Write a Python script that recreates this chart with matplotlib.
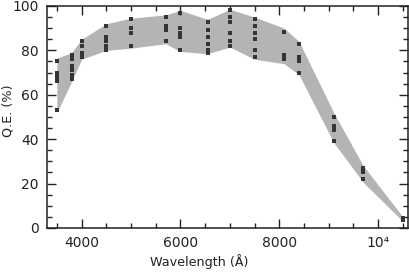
import matplotlib
matplotlib.use("Agg")
import matplotlib.pyplot as plt
from matplotlib.ticker import MultipleLocator, FixedLocator, FixedFormatter

# Measured Q.E. points: wavelength (Å) -> list of values (%)
wavelengths = [3500, 3800, 4000, 4500, 5000, 5700, 6000, 6550, 7000, 7500, 8100, 8400, 9100, 9700, 10500]
qe_values = [
    [75, 70, 68, 66, 53],
    [78, 76, 73, 71, 69, 67],
    [84, 82, 79, 77],
    [91, 86, 84, 82, 80],
    [94, 90, 88, 82],
    [95, 91, 89, 84],
    [97, 90, 88, 86, 80],
    [93, 89, 86, 83, 80, 79],
    [98, 95, 93, 88, 84, 82],
    [94, 91, 88, 85, 80, 77],
    [88.5, 78, 76],
    [83, 77, 75, 70],
    [50, 46, 44, 39],
    [27, 25, 22],
    [4.5, 3.5],
]

# Envelope of the shaded band
band_upper = [76.5, 79, 85, 92, 94.5, 96, 98, 94, 98.5, 95, 90, 84, 52, 28, 5]
band_lower = [52, 66, 76, 80, 81, 83, 79.5, 78.5, 81.5, 76, 74, 69, 38.5, 20.5, 3]

xtick_vals = [4000, 6000, 8000, 10000]
xtick_labels = ["4000", "6000", "8000", "10\u2074"]
ytick_vals = [0, 20, 40, 60, 80, 100]

fig = plt.figure(figsize=(4.10, 2.72), dpi=100)
ax = fig.add_axes([0.1146, 0.162, 0.880, 0.816])

ax.fill_between(wavelengths, band_lower, band_upper, color="#b4b4b6", linewidth=0, zorder=1)

for w, vals in zip(wavelengths, qe_values):
    ax.plot([w] * len(vals), vals, linestyle="none", marker="s", markersize=3.5,
            color="#353535", markeredgewidth=0, zorder=2)

ax.set_xlim(3300, 10600)
ax.set_ylim(0, 100)

ax.xaxis.set_major_locator(FixedLocator(xtick_vals))
ax.xaxis.set_major_formatter(FixedFormatter(xtick_labels))
ax.xaxis.set_minor_locator(MultipleLocator(500))
ax.yaxis.set_major_locator(FixedLocator(ytick_vals))
ax.yaxis.set_minor_locator(MultipleLocator(5))

txt = "#222222"
ax.tick_params(which="both", direction="in", top=True, right=True, colors=txt,
               labelsize=10, width=1.0)
ax.tick_params(which="major", length=6.5, pad=6)
ax.tick_params(which="minor", length=3.5)
for s in ax.spines.values():
    s.set_linewidth(1.1)
    s.set_color(txt)

ax.set_xlabel("Wavelength (Å)", fontsize=9.2, color=txt, va="center", ha="center")
ax.xaxis.set_label_coords(0.421, -0.153)
ax.set_ylabel("Q.E. (%)", fontsize=9.2, color=txt, va="center", ha="center")
ax.yaxis.set_label_coords(-0.108, 0.53)

fig.savefig("out.png", dpi=100)
